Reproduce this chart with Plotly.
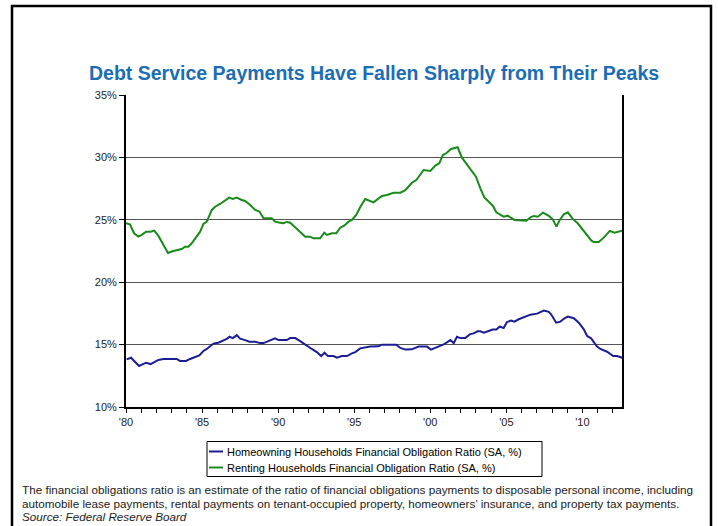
import plotly.graph_objects as go

# ---- data (decimal year, percent) ----
own_year = [1980.04, 1980.33, 1980.86, 1981.32, 1981.62, 1982.13, 1982.46, 1983.33, 1983.55,
            1983.95, 1984.21, 1984.54, 1984.82, 1985.09, 1985.31, 1985.64, 1985.79, 1986.07,
            1986.40, 1986.62, 1986.80, 1987.02, 1987.28, 1987.50, 1987.83, 1988.11, 1988.49,
            1988.82, 1989.04, 1989.36, 1989.80, 1990.02, 1990.57, 1990.79, 1991.12, 1991.45,
            1991.78, 1992.21, 1992.54, 1992.83, 1993.05, 1993.27, 1993.64, 1993.86, 1994.19,
            1994.52, 1994.85, 1995.07, 1995.39, 1996.05, 1996.60, 1996.82, 1997.76, 1998.03,
            1998.36, 1998.79, 1999.23, 1999.78, 2000.04, 2000.44, 2000.88, 2001.32, 2001.54,
            2001.75, 2001.97, 2002.30, 2002.59, 2002.85, 2003.11, 2003.29, 2003.51, 2003.84,
            2004.10, 2004.34, 2004.56, 2004.82, 2005.04, 2005.31, 2005.53, 2005.81, 2006.14,
            2006.58, 2007.02, 2007.24, 2007.46, 2007.79, 2007.94, 2008.27, 2008.55, 2008.82,
            2009.04, 2009.43, 2009.76, 2010.09, 2010.31, 2010.57, 2010.96, 2011.18, 2011.62,
            2012.02, 2012.28, 2012.61]
own_ratio = [13.82, 13.95, 13.29, 13.55, 13.44, 13.77, 13.85, 13.85, 13.69,
             13.69, 13.85, 14.03, 14.14, 14.49, 14.65, 14.99, 15.10, 15.15,
             15.31, 15.45, 15.63, 15.52, 15.76, 15.47, 15.36, 15.23, 15.23,
             15.12, 15.12, 15.28, 15.50, 15.36, 15.36, 15.52, 15.52, 15.28,
             14.99, 14.65, 14.40, 14.08, 14.35, 14.08, 14.08, 13.95, 14.08,
             14.08, 14.30, 14.40, 14.70, 14.84, 14.86, 14.99, 14.99, 14.73,
             14.60, 14.62, 14.84, 14.84, 14.60, 14.78, 15.01, 15.36, 15.12,
             15.63, 15.52, 15.52, 15.82, 15.90, 16.06, 16.06, 15.95, 16.09,
             16.20, 16.20, 16.44, 16.33, 16.81, 16.92, 16.84, 17.03, 17.19,
             17.40, 17.48, 17.59, 17.72, 17.62, 17.43, 16.76, 16.84, 17.11,
             17.24, 17.11, 16.76, 16.22, 15.69, 15.50, 14.84, 14.65, 14.43,
             14.08, 14.08, 13.95]

rent_year = [1980.00, 1980.26, 1980.53, 1980.81, 1981.03, 1981.32, 1981.62, 1981.86, 1982.13,
             1982.35, 1982.52, 1982.76, 1983.11, 1983.44, 1983.66, 1983.88, 1984.10, 1984.32,
             1984.61, 1984.87, 1985.09, 1985.31, 1985.64, 1985.86, 1986.18, 1986.51, 1986.78,
             1987.02, 1987.28, 1987.61, 1987.83, 1988.16, 1988.49, 1988.77, 1989.04, 1989.58,
             1989.80, 1990.13, 1990.35, 1990.57, 1990.79, 1991.01, 1991.45, 1991.78, 1992.11,
             1992.32, 1992.76, 1993.03, 1993.20, 1993.53, 1993.82, 1994.08, 1994.34, 1994.63,
             1994.85, 1995.13, 1995.39, 1995.72, 1996.27, 1996.82, 1997.15, 1997.59, 1998.03,
             1998.36, 1998.79, 1999.08, 1999.56, 2000.00, 2000.33, 2000.59, 2000.83, 2001.05,
             2001.36, 2001.64, 2001.80, 2002.08, 2002.41, 2002.74, 2003.00, 2003.29, 2003.55,
             2003.84, 2004.12, 2004.34, 2004.61, 2004.82, 2005.09, 2005.53, 2006.32, 2006.58,
             2006.80, 2007.06, 2007.41, 2007.79, 2008.05, 2008.29, 2008.51, 2008.77, 2009.04,
             2009.36, 2009.69, 2010.04, 2010.31, 2010.59, 2010.75, 2011.07, 2011.40, 2011.80,
             2012.11, 2012.32, 2012.61]
rent_ratio = [24.72, 24.64, 23.92, 23.65, 23.79, 24.05, 24.05, 24.13, 23.71,
              23.25, 22.85, 22.34, 22.50, 22.58, 22.66, 22.85, 22.85, 23.12,
              23.60, 24.05, 24.67, 24.85, 25.79, 26.05, 26.27, 26.59, 26.78,
              26.67, 26.78, 26.59, 26.51, 26.19, 25.79, 25.66, 25.12, 25.12,
              24.85, 24.77, 24.72, 24.83, 24.77, 24.53, 24.05, 23.65, 23.65,
              23.52, 23.52, 23.97, 23.79, 23.92, 23.92, 24.37, 24.53, 24.85,
              24.99, 25.39, 26.00, 26.67, 26.40, 26.91, 26.99, 27.17, 27.17,
              27.38, 27.97, 28.19, 28.99, 28.91, 29.34, 29.53, 30.19, 30.33,
              30.68, 30.73, 30.81, 29.98, 29.40, 28.86, 28.46, 27.52, 26.80,
              26.45, 26.11, 25.60, 25.44, 25.25, 25.33, 24.99, 24.93, 25.20,
              25.31, 25.25, 25.57, 25.31, 25.04, 24.45, 24.99, 25.44, 25.60,
              25.07, 24.72, 24.19, 23.73, 23.33, 23.22, 23.22, 23.57, 24.11,
              23.97, 24.03, 24.13]

year_ticks = list(range(1980, 2013))
year_labels = ["'%02d" % (y % 100) if y % 5 == 0 else "" for y in year_ticks]

own_name = "Homeowning Households Financial Obligation Ratio (SA, %)"
rent_name = "Renting Households Financial Obligation Ratio (SA, %)"
title_text = "Debt Service Payments Have Fallen Sharply from Their Peaks"
note_lines = [
    "The financial obligations ratio is an estimate of the ratio of financial obligations payments to disposable personal income, including",
    "automobile lease payments, rental payments on tenant-occupied property, homeowners\u2019 insurance, and property tax payments.",
]
source_text = "Source: Federal Reserve Board"

OWN_COLOR = "#1c1c94"
RENT_COLOR = "#1a8a1a"
FONT = "Liberation Sans, Arial, sans-serif"

# plot-area geometry in page pixels
W, H = 718, 526
L, R, T, B = 126, 622, 95, 407


def px(x):
    return (x - L) / (R - L)


def py(y):
    return (B - y) / (B - T)


fig = go.Figure()
fig.add_trace(go.Scatter(x=own_year, y=own_ratio, mode="lines", name=own_name,
                         line=dict(color=OWN_COLOR, width=2), showlegend=False))
fig.add_trace(go.Scatter(x=rent_year, y=rent_ratio, mode="lines", name=rent_name,
                         line=dict(color=RENT_COLOR, width=2), showlegend=False))

shapes = [
    # outer frame
    dict(type="rect", xref="paper", yref="paper", x0=px(12), x1=px(711), y0=py(560), y1=py(6),
         line=dict(color="black", width=2.5), fillcolor="rgba(0,0,0,0)", layer="below"),
    # legend box
    dict(type="rect", xref="paper", yref="paper", x0=px(207), x1=px(542), y0=py(476.5), y1=py(441.5),
         line=dict(color="black", width=1), fillcolor="white"),
    dict(type="line", xref="paper", yref="paper", x0=px(209), x1=px(223), y0=py(451.5), y1=py(451.5),
         line=dict(color=OWN_COLOR, width=2)),
    dict(type="line", xref="paper", yref="paper", x0=px(209), x1=px(223), y0=py(467.5), y1=py(467.5),
         line=dict(color=RENT_COLOR, width=2)),
]

annotations = [
    dict(text="<b>%s</b>" % title_text, xref="paper", yref="paper", x=px(373.5), y=py(73),
         xanchor="center", yanchor="middle", showarrow=False,
         font=dict(family=FONT, size=19.5, color="#1b6db5")),
    dict(text=own_name, xref="paper", yref="paper", x=px(225), y=py(451.5),
         xanchor="left", yanchor="middle", showarrow=False,
         font=dict(family=FONT, size=11, color="black")),
    dict(text=rent_name, xref="paper", yref="paper", x=px(225), y=py(467.5),
         xanchor="left", yanchor="middle", showarrow=False,
         font=dict(family=FONT, size=11, color="black")),
    dict(text=note_lines[0], xref="paper", yref="paper", x=px(20), y=py(489),
         xanchor="left", yanchor="middle", showarrow=False,
         font=dict(family=FONT, size=11.7, color="#222")),
    dict(text=note_lines[1], xref="paper", yref="paper", x=px(20), y=py(503),
         xanchor="left", yanchor="middle", showarrow=False,
         font=dict(family=FONT, size=11.7, color="#222")),
    dict(text="<i>%s</i>" % source_text, xref="paper", yref="paper", x=px(20), y=py(516.5),
         xanchor="left", yanchor="middle", showarrow=False,
         font=dict(family=FONT, size=11.7, color="#222")),
]

fig.update_layout(
    width=W, height=H,
    margin=dict(l=L, r=W - R, t=T, b=H - B, pad=0),
    paper_bgcolor="white", plot_bgcolor="white",
    font=dict(family=FONT, size=11, color="#222"),
    shapes=shapes, annotations=annotations,
    xaxis=dict(range=[1980, 2012.6], tickmode="array", tickvals=year_ticks, ticktext=year_labels,
               ticks="outside", ticklen=4, tickwidth=1, tickcolor="black",
               showgrid=False, showline=True, linecolor="black", linewidth=2,
               zeroline=False, fixedrange=True),
    yaxis=dict(range=[10, 35], dtick=5, tick0=10, ticksuffix="%",
               ticks="outside", ticklen=5, tickwidth=1, tickcolor="black",
               showgrid=True, gridcolor="#555555", gridwidth=1,
               showline=True, linecolor="black", linewidth=2, mirror=True,
               zeroline=False, fixedrange=True),
)

fig.write_html("out.html")
